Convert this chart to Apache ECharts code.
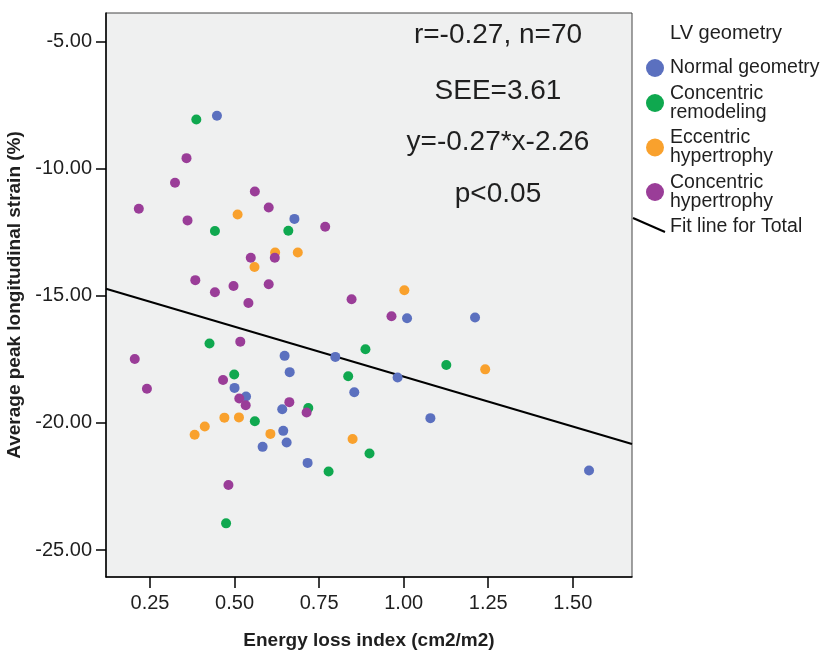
<!DOCTYPE html>
<html>
<head>
<meta charset="utf-8">
<title>LV geometry scatter</title>
<script src="https://cdn.jsdelivr.net/npm/echarts@6/dist/echarts.min.js"></script>
<style>
  html, body { margin: 0; padding: 0; background: #fff; }
  #main { width: 824px; height: 650px; }
</style>
</head>
<body>
<div id="main"></div>
<script>
// data: [energy loss index, strain]
var normalGeometry = [
  [0.448, -7.91], [0.677, -11.97], [0.648, -17.36], [0.798, -17.40], [0.663, -18.00],
  [0.854, -18.79], [0.500, -18.62], [0.534, -18.96], [0.641, -19.46], [0.644, -20.31],
  [0.654, -20.77], [0.583, -20.94], [0.716, -21.57], [1.010, -15.88], [1.211, -15.85],
  [0.982, -18.21], [1.079, -19.81], [1.548, -21.87]
];
var concentricRemodeling = [
  [0.387, -8.06], [0.442, -12.45], [0.659, -12.44], [0.426, -16.87], [0.887, -17.10],
  [0.836, -18.16], [0.499, -18.09], [0.718, -19.41], [0.560, -19.93], [0.899, -21.20],
  [0.778, -21.91], [0.475, -23.95], [1.126, -17.72]
];
var eccentricHypertrophy = [
  [0.509, -11.80], [0.620, -13.29], [0.687, -13.29], [0.559, -13.86], [0.470, -19.79],
  [0.513, -19.78], [0.412, -20.14], [0.382, -20.46], [0.606, -20.43], [0.849, -20.63],
  [1.002, -14.78], [1.241, -17.89]
];
var concentricHypertrophy = [
  [0.358, -9.58], [0.324, -10.55], [0.560, -10.89], [0.217, -11.57], [0.601, -11.52],
  [0.361, -12.03], [0.768, -12.28], [0.548, -13.50], [0.619, -13.50], [0.384, -14.38],
  [0.442, -14.86], [0.497, -14.61], [0.601, -14.54], [0.541, -15.28], [0.846, -15.13],
  [0.517, -16.80], [0.205, -17.48], [0.466, -18.31], [0.241, -18.65], [0.514, -19.04],
  [0.533, -19.30], [0.662, -19.18], [0.713, -19.59], [0.482, -22.44], [0.964, -15.80]
];
// fit line for total, ends at the plot borders
var fitLine = [[0.12, -14.72], [1.675, -20.83]];

var seriesNames = ['Normal geometry', 'Concentric\nremodeling', 'Eccentric\nhypertrophy', 'Concentric\nhypertrophy'];
var seriesColors = ['#5b70bf', '#0fa84f', '#f9a12d', '#9a3d98'];
var xTicks = [0.25, 0.50, 0.75, 1.00, 1.25, 1.50];
var yTicks = [-25, -20, -15, -10, -5];
var statLines = ['r=-0.27, n=70', 'SEE=3.61', 'y=-0.27*x-2.26', 'p<0.05'];

var Chart = echarts.init(document.getElementById('main'), null, { renderer: 'canvas' });

var font = '"Liberation Sans", Arial, sans-serif';
var textColor = '#1f1f1f';

function scatterSeries(i, data) {
  return {
    name: seriesNames[i],
    type: 'scatter',
    data: data,
    symbol: 'circle',
    symbolSize: 10,
    itemStyle: { color: seriesColors[i], opacity: 1 },
    z: 3
  };
}

// stats text block
var statTop = [35, 91, 142, 194];
var graphics = statLines.map(function (t, i) {
  return {
    type: 'text',
    x: 498,
    y: statTop[i],
    style: { text: t, fill: textColor, font: '28px ' + font, textAlign: 'center', textVerticalAlign: 'middle' },
    z: 10
  };
});
graphics.push({
  type: 'text', x: 670, y: 33,
  style: { text: 'LV geometry', fill: textColor, font: '20px ' + font, textVerticalAlign: 'middle' }
});
// fit line legend entry
graphics.push({
  type: 'line',
  shape: { x1: 633, y1: 218, x2: 665, y2: 232 },
  style: { stroke: '#000', lineWidth: 2 }
});
graphics.push({
  type: 'text', x: 670, y: 227,
  style: { text: 'Fit line for Total', fill: textColor, font: '19.5px ' + font, textVerticalAlign: 'middle' }
});

var option = {
  backgroundColor: '#fff',
  animation: false,
  grid: {
    left: 106, top: 13, right: 192, bottom: 73,
    outerBoundsMode: 'none',
    containLabel: false,
    show: true,
    backgroundColor: '#eff0f0',
    borderColor: '#444',
    borderWidth: 1
  },
  legend: {
    data: seriesNames,
    orient: 'vertical',
    left: 641,
    top: 53,
    itemWidth: 18,
    itemHeight: 18,
    itemGap: 5.5,
    icon: 'circle',
    textStyle: { fontFamily: font, fontSize: 19.5, lineHeight: 19, color: textColor, padding: [0, 0, 0, 1] }
  },
  xAxis: {
    type: 'value',
    min: 0.12,
    max: 1.675,
    name: 'Energy loss index (cm2/m2)',
    nameLocation: 'middle',
    nameGap: 54,
    nameTextStyle: { fontFamily: font, fontSize: 19, fontWeight: 'bold', color: textColor },
    axisLine: { show: true, lineStyle: { color: '#000', width: 1.5 } },
    axisTick: { show: true, length: 11, customValues: xTicks, lineStyle: { color: '#000', width: 1.5 } },
    axisLabel: {
      customValues: xTicks,
      margin: 16,
      fontFamily: font, fontSize: 20, color: textColor,
      formatter: function (v) { return v.toFixed(2); }
    },
    splitLine: { show: false }
  },
  yAxis: {
    type: 'value',
    min: -26.06,
    max: -3.87,
    name: 'Average peak longitudinal strain (%)',
    nameLocation: 'middle',
    nameGap: 70,
    nameTextStyle: { fontFamily: font, fontSize: 19, fontWeight: 'bold', color: textColor },
    axisLine: { show: true, lineStyle: { color: '#000', width: 1.5 } },
    axisTick: { show: true, length: 10, customValues: yTicks, lineStyle: { color: '#000', width: 1.5 } },
    axisLabel: {
      customValues: yTicks,
      margin: 14,
      fontFamily: font, fontSize: 20, color: textColor,
      formatter: function (v) { return v.toFixed(2); }
    },
    splitLine: { show: false }
  },
  graphic: graphics,
  series: [
    scatterSeries(0, normalGeometry),
    scatterSeries(1, concentricRemodeling),
    scatterSeries(2, eccentricHypertrophy),
    scatterSeries(3, concentricHypertrophy),
    {
      name: 'Fit line for Total',
      type: 'line',
      data: fitLine,
      showSymbol: false,
      symbol: 'none',
      lineStyle: { color: '#000', width: 2 },
      z: 2,
      silent: true
    }
  ]
};

Chart.setOption(option);
</script>
</body>
</html>
